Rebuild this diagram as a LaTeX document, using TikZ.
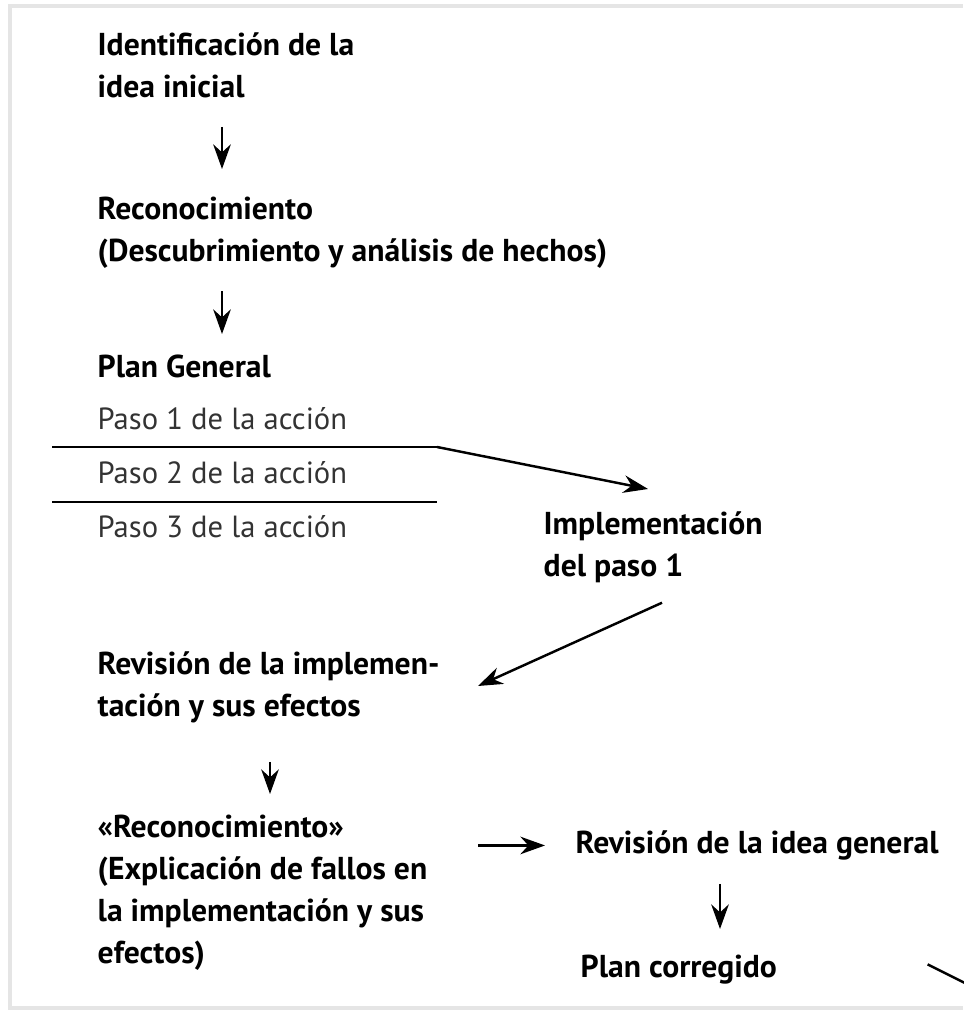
\documentclass[tikz,border=0pt]{standalone}
\usepackage{fontspec}
\setmainfont{PT Sans}
\usetikzlibrary{arrows.meta,calc}

\tikzset{
  titulo/.style={anchor=north west,inner sep=0pt,align=left,font=\bfseries\fontsize{9}{12}\selectfont},
  paso/.style={anchor=north west,inner sep=0pt,font=\fontsize{8.7}{12}\selectfont,text=black!80},
  flecha/.style={-{Stealth[length=7pt,width=5pt]},line width=0.7pt},
}

\begin{document}
\begin{tikzpicture}[x=0.01cm,y=-0.01cm]
\useasboundingbox (0,0) rectangle (963,1016);
\draw[black!10,line width=1.2pt] (963,6)--(10,6)--(10,1008)--(963,1008);
\def \xl{97}

\node[titulo] (ini) at (\xl,32) {Identificación de la\\idea inicial};
\node[titulo] (reco) at (\xl,196) {Reconocimiento\\(Descubrimiento y análisis de hechos)};
\node[titulo] (plan) at (\xl,354) {Plan General};

\foreach \i/\y in {1/407,2/461,3/515}{
\node[paso] (paso\i) at (\xl,\y) {Paso \i\ de la acción};
}
\draw (52,447)--(437,447) coordinate (l1);
\draw (52,502)--(437,502);

\node[titulo] (impl) at (543,511) {Implementación\\del paso 1};
\node[titulo] (rev) at (\xl,651) {Revisión de la implemen-\\tación y sus efectos};
\node[titulo] (reco2) at (\xl,814) {«Reconocimiento»\\(Explicación de fallos en\\la implementación y sus\\efectos)};
\node[titulo] (idea) at (575,830) {Revisión de la idea general};
\node[titulo] (corr) at (580,954) {Plan corregido};

\draw[flecha] ($(ini.south west)+(125,28)$)--($(reco.north west)+(125,-27)$);
\draw[flecha] ($(reco.south west)+(125,22)$)--($(plan.north west)+(125,-20)$);
\draw[flecha] (l1)--($(impl.north west)+(105,-22)$);
\draw[flecha] ($(impl.south west)+(119,19)$)--($(rev.north west)+(381,35)$);
\draw[flecha] ($(rev.south west)+(173,38)$)--($(reco2.north west)+(173,-20)$);
\draw[flecha] ($(idea.west)+(-97,0)$)--($(idea.west)+(-30,0)$);
\draw[flecha] ($(idea.south west)+(145,23)$)--($(corr.north west)+(140,-25)$);
\draw[line width=0.7pt] ($(corr.east)+(150,-5)$)--++(40,20);

\end{tikzpicture}
\end{document}
